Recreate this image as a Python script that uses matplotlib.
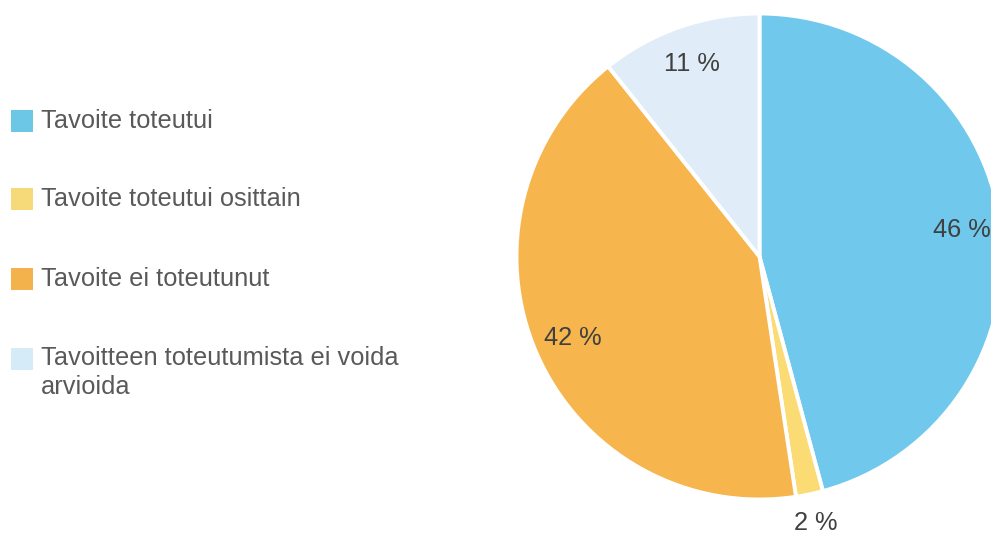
import numpy as np
import matplotlib.pyplot as plt
from matplotlib.patches import Rectangle

plt.rcParams['font.family'] = ['Liberation Sans', 'DejaVu Sans']

categories = ['Tavoite toteutui', 'Tavoite toteutui osittain',
              'Tavoite ei toteutunut',
              'Tavoitteen toteutumista ei voida\narvioida']
shares = [45.8, 1.8, 41.7, 10.7]
pct_labels = ['46 %', '2 %', '42 %', '11 %']
pie_colors = ['#70C9EC', '#FADB74', '#F7B54D', '#E0EDF9']
legend_colors = ['#6CC7E6', '#F6D978', '#F3B24C', '#D5EBF8']

W, H = 991, 533
fig = plt.figure(figsize=(W / 100, H / 100), dpi=100)
ax = fig.add_axes([0, 0, 1, 1])

cx, cy, r = 759.5, H - 256.5, 243
wedges, _ = ax.pie(shares, colors=pie_colors, startangle=90, counterclock=False,
                   center=(cx, cy), radius=r,
                   wedgeprops=dict(edgecolor='white', linewidth=2.8))
ax.set_xlim(0, W)
ax.set_ylim(0, H)
ax.set_aspect('equal')
ax.axis('off')

# percentage labels, small slice goes outside
for w, lab in zip(wedges, pct_labels):
    mid = np.deg2rad((w.theta1 + w.theta2) / 2)
    frac = (w.theta2 - w.theta1) / 360
    d = 1.12 if frac < 0.05 else 0.84
    ax.text(cx + d * r * np.cos(mid), cy + d * r * np.sin(mid), lab,
            ha='center', va='center', fontsize=18.3, color='#404040')

# legend on the left
row_top = [110, 188, 268, 348]
for top, col, name in zip(row_top, legend_colors, categories):
    ax.add_patch(Rectangle((11, H - top - 22), 22, 22, color=col, lw=0))
    ax.text(41, H - top - 11, name, ha='left', va='top' if '\n' in name else 'center',
            fontsize=18.3, color='#595959', linespacing=1.25)

# two-line entry: first line sits on the square
ax.texts[-1].set_position((41, H - 348 + 2))

fig.savefig('out.png', dpi=100)
